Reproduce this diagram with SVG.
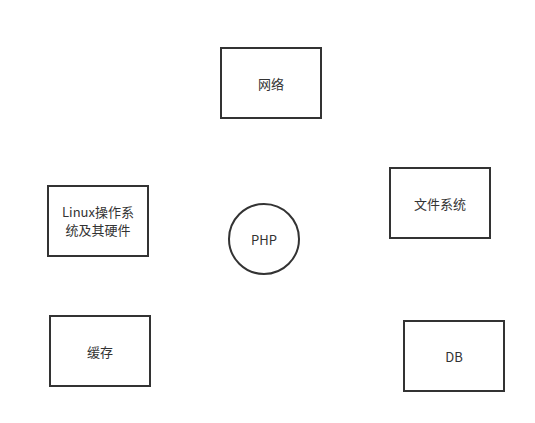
<svg xmlns="http://www.w3.org/2000/svg" width="535" height="423" viewBox="0 0 535 423">
<style>
.n{fill:#ffffff;stroke:#333333;stroke-width:2}
.t{font-family:"Noto Sans CJK SC","Noto Sans",sans-serif;font-size:13px;fill:#333333;text-anchor:middle;dominant-baseline:central}
</style>
<rect width="535" height="423" fill="#ffffff"/>
<g id="connectors"></g>
<g id="network"><rect class="n" x="221" y="48" width="100" height="70"/><text class="t" x="271" y="83">网络</text></g>
<g id="filesystem"><rect class="n" x="390" y="168" width="100" height="70"/><text class="t" x="440" y="203">文件系统</text></g>
<g id="linux"><rect class="n" x="48" y="186" width="100" height="70"/><text class="t" x="98" y="211">Linux操作系</text><text class="t" x="98" y="229">统及其硬件</text></g>
<g id="php"><circle class="n" cx="264" cy="239" r="35"/><text class="t" x="264" y="239">PHP</text></g>
<g id="cache"><rect class="n" x="50" y="316" width="100" height="70"/><text class="t" x="100" y="351">缓存</text></g>
<g id="db"><rect class="n" x="404" y="321" width="100" height="70"/><text class="t" x="454" y="356">DB</text></g>
</svg>
